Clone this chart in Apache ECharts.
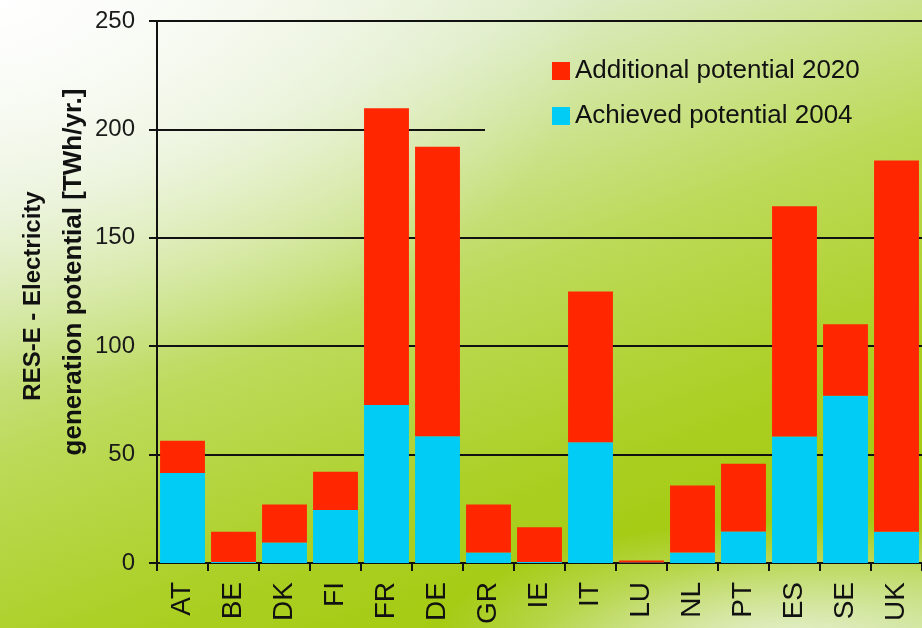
<!DOCTYPE html>
<html>
<head>
<meta charset="utf-8">
<script src="https://cdn.jsdelivr.net/npm/echarts@6/dist/echarts.min.js"></script>
<style>
html,body{margin:0;padding:0;}
#chart{width:922px;height:628px;
background:
 radial-gradient(ellipse 360px 130px at 790px 650px, rgba(236,243,226,0.95), rgba(236,243,226,0) 100%),
 radial-gradient(ellipse 600px 380px at 0px 0px, rgba(255,255,255,0.97), rgba(255,255,255,0) 100%),
 linear-gradient(160deg, #f2f6ec 0%, #dcebc2 22%, #bcda58 48%, #abcf22 70%, #a3ca0e 85%, #b4d650 100%);
}
</style>
</head>
<body>
<div id="chart"></div>
<script>
var categories = ['AT','BE','DK','FI','FR','DE','GR','IE','IT','LU','NL','PT','ES','SE','UK'];
var achieved2004 = [41.5, 0.5, 9.4, 24.4, 72.9, 58.5, 4.9, 0.5, 55.7, 0.2, 4.8, 14.5, 58.3, 77.2, 14.4];
var additional2020 = [14.9, 13.9, 17.6, 17.7, 136.9, 133.5, 22.1, 16.0, 69.5, 1.0, 31.0, 31.3, 106.2, 32.9, 171.3];
var yTicks = [0, 50, 100, 150, 200, 250];
var seriesNames = ['Achieved potential 2004', 'Additional potential 2020'];
var titleLines = ['RES-E - Electricity', 'generation potential [TWh/yr.]'];

var chart = echarts.init(document.getElementById('chart'), null, {renderer:'canvas'});
var FONT = 'Liberation Sans, Arial, sans-serif';
var yMin = yTicks[0], yMax = yTicks[yTicks.length-1], yStep = yTicks[1]-yTicks[0];

var option = {
  animation: false,
  textStyle: {fontFamily: FONT},
  grid: [
    {left: 157, top: 21, bottom: 65, right: -5, containLabel: false},
    {left: 157, top: 21, bottom: 65, width: 328, containLabel: false}
  ],
  legend: {
    orient: 'vertical',
    left: 547, top: 53,
    itemWidth: 18, itemHeight: 18, itemGap: 19,
    icon: 'rect',
    data: [seriesNames[1], seriesNames[0]],
    textStyle: {fontSize: 26, color: '#111', fontFamily: FONT, padding: [0,0,0,0]}
  },
  xAxis: [{
    type: 'category', gridIndex: 0, data: categories,
    axisLine: {lineStyle: {color: '#111', width: 2}},
    axisTick: {show: true, length: 8, lineStyle: {color: '#111', width: 2}},
    axisLabel: {rotate: 90, fontSize: 28, color: '#111', margin: 19, fontFamily: FONT}
  }, {
    type: 'category', gridIndex: 1, data: [''], show: false
  }],
  yAxis: [{
    type: 'value', gridIndex: 0, min: yMin, max: yMax, interval: yStep,
    axisLine: {show: true, lineStyle: {color: '#111', width: 2}},
    axisTick: {show: true, length: 8, lineStyle: {color: '#111', width: 2}},
    axisLabel: {fontSize: 24, color: '#1a1a1a', margin: 22, fontFamily: FONT},
    splitLine: {show: true, lineStyle: {width: 2, color: ['transparent', '#111', '#111', '#111', 'transparent', '#111']}}
  }, {
    type: 'value', gridIndex: 1, min: yMin, max: yMax, interval: yStep,
    axisLine: {show: false}, axisTick: {show: false}, axisLabel: {show: false},
    splitLine: {show: true, lineStyle: {width: 2, color: ['transparent', 'transparent', 'transparent', 'transparent', '#111', 'transparent']}}
  }],
  series: [{
    name: seriesNames[0], type: 'bar', stack: 'total', data: achieved2004,
    xAxisIndex: 0, yAxisIndex: 0,
    barCategoryGap: '12%',
    itemStyle: {color: '#00ccf5'}
  }, {
    name: seriesNames[1], type: 'bar', stack: 'total', data: additional2020,
    xAxisIndex: 0, yAxisIndex: 0,
    barCategoryGap: '12%',
    itemStyle: {color: '#ff2600'}
  }],
  graphic: [{
    type: 'text', x: 33, y: 296, rotation: Math.PI/2,
    style: {text: titleLines[0], fontSize: 24, fontWeight: 'bold', fontFamily: FONT, fill: '#111', align: 'center', verticalAlign: 'middle'}
  }, {
    type: 'text', x: 74, y: 272, rotation: Math.PI/2,
    style: {text: titleLines[1], fontSize: 26, fontWeight: 'bold', fontFamily: FONT, fill: '#111', align: 'center', verticalAlign: 'middle'}
  }]
};
chart.setOption(option);
</script>
</body>
</html>
